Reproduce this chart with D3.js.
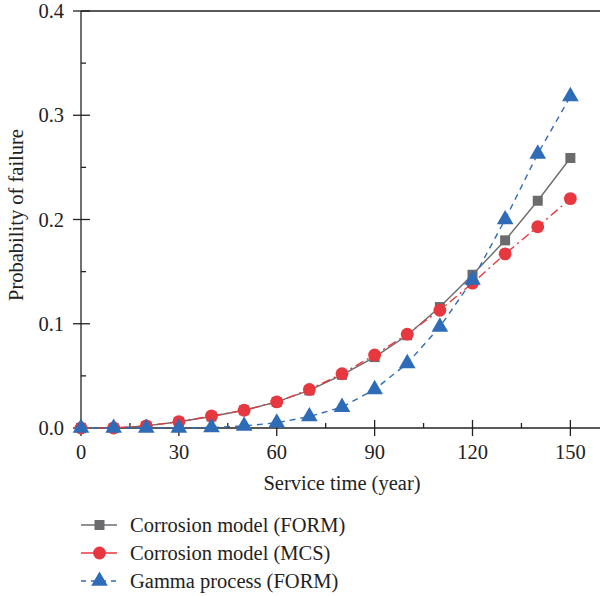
<!DOCTYPE html>
<html>
<head>
<meta charset="utf-8">
<script src="https://cdnjs.cloudflare.com/ajax/libs/d3/7.8.5/d3.min.js"></script>
<style>
body { margin: 0; background: #fff; }
text { font-family: "Liberation Serif", "DejaVu Serif", serif; fill: #222; }
</style>
</head>
<body>
<svg id="chart" width="600" height="596"></svg>
<script>
// service time (year)
const years = [0, 10, 20, 30, 40, 50, 60, 70, 80, 90, 100, 110, 120, 130, 140, 150];
const corrosionForm = [0, 0, 0.002, 0.006, 0.011, 0.017, 0.025, 0.036, 0.051, 0.068, 0.089, 0.116, 0.147, 0.180, 0.218, 0.259];
const corrosionMcs  = [0, 0, 0.002, 0.006, 0.0115, 0.017, 0.025, 0.037, 0.052, 0.070, 0.090, 0.113, 0.139, 0.167, 0.193, 0.220];
const gammaForm     = [0, 0, 0, 0, 0.0005, 0.002, 0.005, 0.011, 0.020, 0.037, 0.062, 0.097, 0.142, 0.200, 0.263, 0.318];
const xTicks = [0, 30, 60, 90, 120, 150];
const yTicks = [0.0, 0.1, 0.2, 0.3, 0.4];
const seriesNames = ["Corrosion model (FORM)", "Corrosion model (MCS)", "Gamma process (FORM)"];

const svg = d3.select("#chart");
const x = d3.scaleLinear().domain([0, 160]).range([81, 603]);
const y = d3.scaleLinear().domain([0, 0.4]).range([428, 11]);
const fs = 20.5;

const series = [
  {name: seriesNames[0], values: corrosionForm, color: "#6b6b6e", dash: null, sym: d3.symbolSquare, size: 100},
  {name: seriesNames[1], values: corrosionMcs, color: "#e8383f", dash: "9,4,2,4", sym: d3.symbolCircle, size: 130},
  {name: seriesNames[2], values: gammaForm, color: "#2e6cb8", dash: "6,5", sym: d3.symbolTriangle, size: 120}
];

// frame
svg.append("line").attr("x1", 81).attr("x2", 603).attr("y1", 11).attr("y2", 11)
  .attr("stroke", "#222").attr("stroke-width", 1.3);

// x axis
const xAxis = svg.append("g").attr("transform", "translate(0,428)");
xAxis.append("line").attr("x1", 81).attr("x2", 603).attr("stroke", "#222").attr("stroke-width", 1.3);
xAxis.selectAll("line.maj").data(xTicks).join("line").attr("class", "maj")
  .attr("x1", d => x(d)).attr("x2", d => x(d)).attr("y1", -8).attr("y2", 8)
  .attr("stroke", "#222").attr("stroke-width", 1.3);
xAxis.selectAll("line.min").data(xTicks.map(d => d + 15)).join("line").attr("class", "min")
  .attr("x1", d => x(d)).attr("x2", d => x(d)).attr("y1", -5).attr("y2", 0)
  .attr("stroke", "#222").attr("stroke-width", 1.3);
xAxis.selectAll("text").data(xTicks).join("text")
  .attr("x", d => x(d)).attr("y", 31).attr("text-anchor", "middle")
  .attr("font-size", fs).text(d => d);

// y axis
const yAxis = svg.append("g");
yAxis.append("line").attr("x1", 81).attr("x2", 81).attr("y1", 11).attr("y2", 428)
  .attr("stroke", "#222").attr("stroke-width", 1.3);
yAxis.selectAll("line.maj").data(yTicks).join("line").attr("class", "maj")
  .attr("x1", 73).attr("x2", 90).attr("y1", d => y(d)).attr("y2", d => y(d))
  .attr("stroke", "#222").attr("stroke-width", 1.3);
yAxis.selectAll("line.min").data(yTicks.slice(0, 4).map(d => d + 0.05)).join("line").attr("class", "min")
  .attr("x1", 81).attr("x2", 86).attr("y1", d => y(d)).attr("y2", d => y(d))
  .attr("stroke", "#222").attr("stroke-width", 1.3);
yAxis.selectAll("text").data(yTicks).join("text")
  .attr("x", 64).attr("y", d => y(d) + 7).attr("text-anchor", "end")
  .attr("font-size", fs).text(d => d.toFixed(1));

svg.append("text").attr("x", 342).attr("y", 490).attr("text-anchor", "middle")
  .attr("font-size", fs).text("Service time (year)");
svg.append("text").attr("transform", "translate(23,215) rotate(-90)").attr("text-anchor", "middle")
  .attr("font-size", fs).text("Probability of failure");

// series
const line = d3.line().x(d => x(d[0])).y(d => y(d[1]));
series.forEach(s => {
  const pts = years.map((yr, i) => [yr, s.values[i]]);
  svg.append("path").datum(pts).attr("d", line).attr("fill", "none")
    .attr("stroke", s.color).attr("stroke-width", 1.4)
    .attr("stroke-dasharray", s.dash);
  svg.append("g").selectAll("path").data(pts).join("path")
    .attr("transform", d => `translate(${x(d[0])},${y(d[1])})`)
    .attr("d", d3.symbol().type(s.sym).size(s.size)).attr("fill", s.color);
});

// legend
const legend = svg.append("g");
series.forEach((s, i) => {
  const ly = 525 + i * 28;
  legend.append("line").attr("x1", 81).attr("x2", 117).attr("y1", ly).attr("y2", ly)
    .attr("stroke", s.color).attr("stroke-width", 1.4).attr("stroke-dasharray", i === 2 ? "5,5" : null);
  legend.append("path").attr("transform", `translate(99.5,${ly})`)
    .attr("d", d3.symbol().type(s.sym).size(s.size)).attr("fill", s.color);
  legend.append("text").attr("x", 130).attr("y", ly + 7).attr("font-size", fs).text(s.name);
});
</script>
</body>
</html>
